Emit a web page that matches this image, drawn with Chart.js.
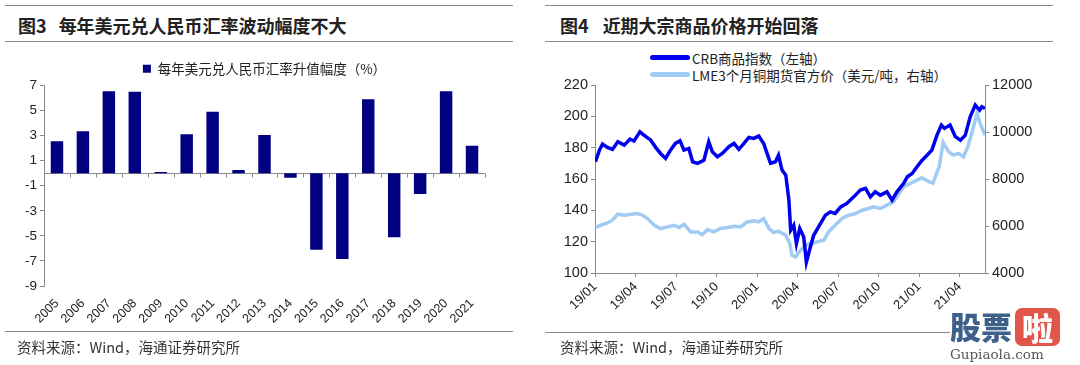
<!DOCTYPE html>
<html>
<head>
<meta charset="utf-8">
<script src="https://cdn.jsdelivr.net/npm/chart.js@4.4.1/dist/chart.umd.min.js"></script>
<style>
body { margin: 0; width: 1080px; height: 365px; background: #fff; position: relative; overflow: hidden; font-family: "Liberation Sans", Arial, sans-serif; }
.rule { position: absolute; height: 0; border-top: 1.5px solid #8a8a8a; }
.title { position: absolute; top: 15px; line-height: 20px; font-family: "Noto Sans CJK SC", sans-serif; font-size: 18px; font-weight: bold; color: #222; white-space: nowrap; }
.src { position: absolute; top: 338px; line-height: 18px; font-family: "Noto Sans CJK SC", sans-serif; font-size: 14.5px; color: #333; white-space: nowrap; }
.box { position: absolute; }
#legend4 { position: absolute; left: 650px; top: 49px; font-family: "Noto Sans CJK SC", sans-serif; font-size: 13.5px; color: #222; }
#legend4 .row { display: flex; align-items: center; height: 17px; white-space: nowrap; }
#legend4 .sw { width: 40px; height: 5px; border-radius: 3px; margin-right: 2px; }
.wm { position: absolute; }
</style>
</head>
<body>
<div class="rule" style="left:5px;top:5px;width:508px"></div>
<div class="title" style="left:18px"><span>图3</span><span style="margin-left:12px">每年美元兑人民币汇率波动幅度不大</span></div>
<div class="rule" style="left:5px;top:41px;width:508px"></div>
<div class="box" style="left:0;top:50px;width:540px;height:285px"><canvas id="fig3"></canvas></div>
<div class="rule" style="left:5px;top:331px;width:508px"></div>
<div class="src" style="left:17px">资料来源：Wind，海通证券研究所</div>

<div class="rule" style="left:545px;top:5px;width:508px"></div>
<div class="title" style="left:560px"><span>图4</span><span style="margin-left:14px">近期大宗商品价格开始回落</span></div>
<div class="rule" style="left:545px;top:41px;width:508px"></div>
<div id="legend4"></div>
<div class="box" style="left:540px;top:45px;width:540px;height:290px"><canvas id="fig4"></canvas></div>
<div class="rule" style="left:545px;top:332px;width:405px"></div>
<div class="src" style="left:560px">资料来源：Wind，海通证券研究所</div>

<div class="wm" style="left:950px;top:306px;font-family:'Noto Sans CJK SC';font-weight:900;font-size:31px;line-height:40px;color:#3d6189">股票</div>
<div class="wm" style="left:1015px;top:308px;width:45px;height:38px;background:#e2554a;border-radius:7px;color:#fff;font-family:'Noto Sans CJK SC';font-weight:900;font-size:31px;line-height:38px;text-align:center">啦</div>
<div class="wm" style="left:950px;top:346px;font-family:'DejaVu Serif',serif;font-size:13.5px;line-height:16px;color:#555">Gupiaola.com</div>

<script>
// 图3 data
const years = ['2005', '2006', '2007', '2008', '2009', '2010', '2011', '2012', '2013',
    '2014', '2015', '2016', '2017', '2018', '2019', '2020', '2021'];
const cnyAppreciation = [2.56, 3.35, 6.55, 6.5, 0.1, 3.1, 4.9, 0.25, 3.05,
    -0.36, -6.1, -6.85, 5.9, -5.1, -1.65, 6.55, 2.2];
const fig3Label = '每年美元兑人民币汇率升值幅度（%）';

// 图4 data
const crbDates = ['2019-01-02', '2019-01-11', '2019-01-18', '2019-01-29', '2019-02-10', '2019-02-22', '2019-03-06',
    '2019-03-19', '2019-03-28', '2019-04-11', '2019-04-20', '2019-05-05', '2019-05-16', '2019-05-27', '2019-06-08',
    '2019-06-19', '2019-06-30', '2019-07-10', '2019-07-19', '2019-07-30', '2019-08-08', '2019-08-19', '2019-09-03',
    '2019-09-14', '2019-09-22', '2019-10-03', '2019-10-14', '2019-10-29', '2019-11-10', '2019-11-21', '2019-12-02',
    '2019-12-13', '2019-12-24', '2020-01-05', '2020-01-16', '2020-02-01', '2020-02-12', '2020-02-19', '2020-02-27',
    '2020-03-05', '2020-03-12', '2020-03-16', '2020-03-23', '2020-03-29', '2020-04-06', '2020-04-15', '2020-04-21',
    '2020-04-28', '2020-05-07', '2020-05-18', '2020-06-03', '2020-06-14', '2020-06-25', '2020-07-07', '2020-07-21',
    '2020-08-06', '2020-08-21', '2020-09-02', '2020-09-13', '2020-09-24', '2020-10-05', '2020-10-20', '2020-11-01',
    '2020-11-12', '2020-11-27', '2020-12-05', '2020-12-16', '2020-12-27', '2021-01-08', '2021-01-19', '2021-01-30',
    '2021-02-11', '2021-02-21', '2021-02-28', '2021-03-10', '2021-03-22', '2021-04-03', '2021-04-14', '2021-04-25',
    '2021-05-06', '2021-05-16', '2021-05-21', '2021-05-28'];
const crbValues = [171, 178.4, 182.3, 180.2, 178.9, 183.8, 181.6,
    185.5, 184.2, 190.1, 188, 184.8, 180.2, 176.3, 173.1,
    178.4, 182.7, 184.4, 178.4, 179.5, 171, 170, 172,
    183.8, 177.4, 174.2, 176.3, 180.6, 182.7, 178.9, 182.7,
    186.5, 185.9, 187.4, 182.7, 170, 171, 175.2, 165.7,
    162.5, 146.5, 127.3, 130.5, 118.8, 128.4, 123, 107,
    114.5, 124.1, 129.4, 136.9, 139, 138, 142.2, 144.4,
    148.6, 152.9, 154, 148.6, 151.8, 149.7, 151.8, 146.5,
    151.8, 157.1, 161.4, 163.5, 167.8, 172, 175.2, 178.4,
    188, 194.4, 192.3, 194.4, 187, 184.8, 188, 199.7,
    207.2, 204, 206.1, 205.1];

const lmeDates = ['2019-01-02', '2019-01-14', '2019-01-29', '2019-02-10', '2019-02-22', '2019-03-06', '2019-03-21',
    '2019-04-06', '2019-04-17', '2019-04-28', '2019-05-13', '2019-05-27', '2019-06-12', '2019-06-27', '2019-07-08',
    '2019-07-19', '2019-08-04', '2019-08-19', '2019-08-30', '2019-09-11', '2019-09-25', '2019-10-10', '2019-10-26',
    '2019-11-10', '2019-11-25', '2019-12-09', '2019-12-24', '2020-01-05', '2020-01-16', '2020-01-28', '2020-02-08',
    '2020-02-19', '2020-03-05', '2020-03-14', '2020-03-19', '2020-03-27', '2020-04-08', '2020-04-19', '2020-04-30',
    '2020-05-15', '2020-05-30', '2020-06-10', '2020-06-25', '2020-07-10', '2020-07-25', '2020-08-10', '2020-08-25',
    '2020-09-09', '2020-09-20', '2020-10-05', '2020-10-20', '2020-11-04', '2020-11-27', '2020-12-12', '2020-12-27',
    '2021-01-07', '2021-01-22', '2021-02-02', '2021-02-09', '2021-02-16', '2021-02-25', '2021-03-07', '2021-03-18',
    '2021-03-29', '2021-04-10', '2021-04-21', '2021-05-02', '2021-05-10', '2021-05-17', '2021-05-25', '2021-05-28'];
const lmeValues = [5934, 6033, 6131, 6246, 6502, 6459, 6502,
    6532, 6459, 6318, 6033, 5892, 5961, 6033, 5934,
    6076, 5748, 5748, 5637, 5850, 5748, 5892, 5934,
    5991, 5961, 6174, 6217, 6174, 6318, 5892, 5722,
    5778, 5607, 5253, 4755, 4683, 4968, 5181, 5253,
    5324, 5394, 5748, 6033, 6318, 6459, 6532, 6672,
    6745, 6813, 6745, 6886, 7026, 7666, 7810, 7950,
    8050, 7900, 7820, 8200, 8518, 9550, 9157, 9017,
    9089, 8944, 9443, 10223, 10794, 10368, 10010, 9869];
const crbLabel = 'CRB商品指数（左轴）';
const lmeLabel = 'LME3个月铜期货官方价（美元/吨，右轴）';

Chart.defaults.font.family = "'Liberation Sans', Arial, sans-serif";
Chart.defaults.color = '#222';
Chart.defaults.animation = false;

const AXIS = '#8a8a8a';

// months since 2019-01 for a date string
function monthPos(d) {
    const [y, m, day] = d.split('-').map(Number);
    return (y - 2019) * 12 + (m - 1) + (day - 1) / 30.5;
}

// zero line with small ticks between categories
const zeroAxis = {
    id: 'zeroAxis',
    beforeDatasetsDraw(chart) {
        const { ctx, chartArea, scales: { x, y } } = chart;
        const y0 = Math.round(y.getPixelForValue(0)) + 0.5;
        const half = (x.getPixelForTick(1) - x.getPixelForTick(0)) / 2;
        ctx.save();
        ctx.strokeStyle = AXIS;
        ctx.lineWidth = 1;
        ctx.beginPath();
        ctx.moveTo(chartArea.left, y0);
        ctx.lineTo(chartArea.right, y0);
        for (let i = 1; i <= x.ticks.length; i++) {
            const px = Math.round(x.getPixelForTick(0) - half + i * 2 * half) + 0.5;
            ctx.moveTo(px, y0);
            ctx.lineTo(px, y0 + 4);
        }
        ctx.stroke();
        ctx.restore();
    }
};

new Chart(document.getElementById('fig3'), {
    type: 'bar',
    data: {
        labels: years,
        datasets: [{
            label: fig3Label,
            data: cnyAppreciation,
            backgroundColor: '#000080',
            barPercentage: 0.48,
            categoryPercentage: 1
        }]
    },
    options: {
        responsive: true,
        maintainAspectRatio: false,
        layout: { padding: { left: 0, right: 55, top: 2, bottom: 0 } },
        plugins: {
            legend: {
                fullSize: false,
                labels: {
                    font: { family: "'Noto Sans CJK SC', sans-serif", size: 13.5 },
                    color: '#222',
                    boxWidth: 8,
                    boxHeight: 8,
                    padding: 10
                }
            },
            tooltip: { enabled: false }
        },
        scales: {
            x: {
                grid: { display: false },
                border: { display: false },
                ticks: { maxRotation: 45, minRotation: 45, font: { size: 12.5 }, padding: 2 },
                afterFit: s => { s.height = 49; }
            },
            y: {
                min: -9,
                max: 7,
                ticks: { stepSize: 2, font: { size: 13.5 }, padding: 3 },
                grid: { drawOnChartArea: false, color: AXIS, tickLength: 4 },
                border: { color: AXIS },
                afterFit: s => { s.width = 44; }
            }
        }
    },
    plugins: [zeroAxis]
});

// HTML legend for 图4 (left-aligned rows)
const htmlLegend = {
    id: 'htmlLegend',
    afterUpdate(chart) {
        const box = document.getElementById('legend4');
        box.innerHTML = '';
        chart.options.plugins.legend.labels.generateLabels(chart).forEach(item => {
            const row = document.createElement('div');
            row.className = 'row';
            const sw = document.createElement('span');
            sw.className = 'sw';
            sw.style.background = item.strokeStyle;
            const txt = document.createElement('span');
            txt.textContent = item.text;
            row.appendChild(sw);
            row.appendChild(txt);
            box.appendChild(row);
        });
    }
};

const xMax = monthPos(crbDates[crbDates.length - 1]);

new Chart(document.getElementById('fig4'), {
    type: 'line',
    data: {
        datasets: [{
            label: crbLabel,
            data: crbDates.map((d, i) => ({ x: monthPos(d), y: crbValues[i] })),
            borderColor: '#0000ee',
            backgroundColor: '#0000ee',
            borderWidth: 3.5,
            pointRadius: 0,
            yAxisID: 'y'
        }, {
            label: lmeLabel,
            data: lmeDates.map((d, i) => ({ x: monthPos(d), y: lmeValues[i] })),
            borderColor: '#9fcbf5',
            backgroundColor: '#9fcbf5',
            borderWidth: 3.5,
            pointRadius: 0,
            yAxisID: 'y1'
        }]
    },
    options: {
        responsive: true,
        maintainAspectRatio: false,
        layout: { padding: { left: 0, right: 0, top: 40, bottom: 0 } },
        plugins: {
            legend: { display: false },
            tooltip: { enabled: false }
        },
        scales: {
            x: {
                type: 'linear',
                min: 0,
                max: xMax,
                ticks: {
                    stepSize: 3,
                    includeBounds: false,
                    maxRotation: 45,
                    minRotation: 45,
                    font: { size: 13 },
                    padding: 2,
                    callback: v => (19 + Math.floor(v / 12)) + '/' + String(v % 12 + 1).padStart(2, '0')
                },
                grid: { drawOnChartArea: false, color: AXIS, tickLength: 4 },
                border: { color: AXIS },
                afterFit: s => { s.height = 62; }
            },
            y: {
                position: 'left',
                min: 100,
                max: 220,
                ticks: { stepSize: 20, font: { size: 14.5 }, padding: 3 },
                grid: { drawOnChartArea: false, color: AXIS, tickLength: 4 },
                border: { color: AXIS },
                afterFit: s => { s.width = 55; }
            },
            y1: {
                position: 'right',
                min: 4000,
                max: 12000,
                ticks: { stepSize: 2000, font: { size: 14.5 }, padding: 3, callback: v => String(v) },
                grid: { drawOnChartArea: false, color: AXIS, tickLength: 4 },
                border: { color: AXIS },
                afterFit: s => { s.width = 95; }
            }
        }
    },
    plugins: [htmlLegend]
});
</script>
</body>
</html>
